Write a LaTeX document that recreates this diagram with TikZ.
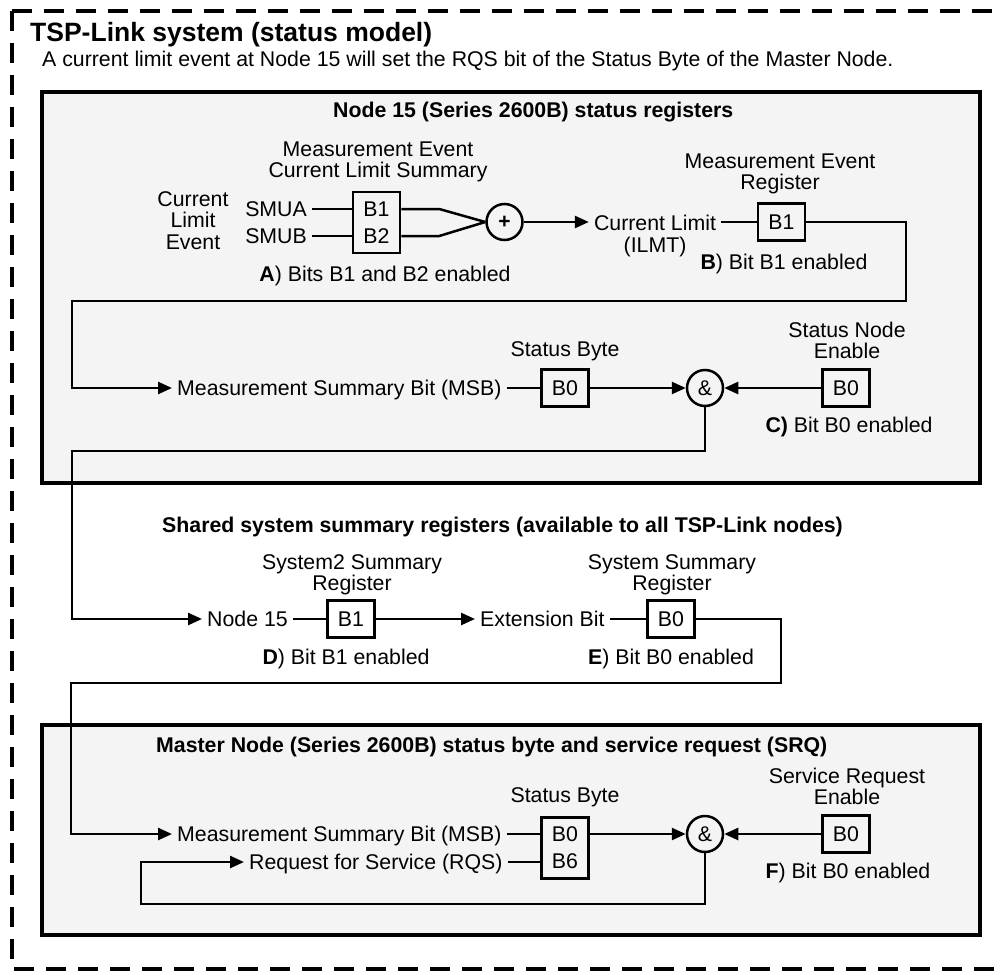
\documentclass[tikz,border=0pt]{standalone}
\usepackage{fontspec}
\setmainfont{Liberation Sans}
\usetikzlibrary{arrows.meta}
\definecolor{panelgray}{HTML}{F4F4F4}
\newcommand{\bodyfont}{\fontsize{21.3}{21.5}\selectfont}

\begin{document}
\begin{tikzpicture}[x=1pt, y=-1pt, font=\bodyfont,
    txt/.style={inner xsep=5pt, inner ysep=0pt, text height=15pt, text depth=0pt},
    ml/.style={align=center, inner xsep=5pt, inner ysep=0pt},
    head/.style={txt, anchor=west, inner xsep=0pt, font=\bodyfont\bfseries},
    reg/.style={draw, line width=2.5pt, minimum width=47pt, minimum height=37pt,
        inner sep=0pt, text height=15pt, text depth=0pt},
    regtwo/.style={draw, line width=2.5pt, minimum width=47pt, minimum height=61pt,
        inner sep=0pt, align=center, font=\fontsize{21.3}{27}\selectfont},
    gate/.style={circle, draw, line width=2.5pt, minimum size=36pt, inner sep=0pt},
    wire/.style={line width=2.5pt},
    sig/.style={wire, -{Triangle[length=14pt, width=12pt]}},
    panel/.style={draw, line width=3.5pt, fill=panelgray},
    frame/.style={line width=4pt, dash pattern=on 20pt off 12pt}]
                    \useasboundingbox (0,0) rectangle (1003,971);
                    % Frame and panels
                    \draw[frame] (12,11) -- (1012,11);
                    \draw[frame] (12,11) -- (12,969) -- (1012,969);
                    \draw[panel] (42,92) rectangle (980,483);
                    \draw[panel] (42,725) rectangle (980,935);
                    % Titles
                    \node[txt, anchor=west, inner xsep=0pt, text height=19pt, font=\fontsize{26.5}{30}\selectfont\bfseries] (title) at (30,32) {TSP-Link system (status model)};
                    \node[txt, anchor=west, inner xsep=0pt] (intro) at (42,59) {A current limit event at Node 15 will set the RQS bit of the Status Byte of the Master Node.};
                    % Node 15
                    \node[head] (nodehead) at (333,110) {Node 15 (Series 2600B) status registers};
                    \node[ml] (cle) at (193,220.5) {Current\\Limit\\Event};
                    \node[txt, anchor=east] (smua) at (312,209) {SMUA};
                    \node[txt, anchor=east] (smub) at (312,236) {SMUB};
                    \node[regtwo] (mecl) at (376.5,222.5) {B1\\B2};
                    \node[ml] (mecltitle) at (378,162) {Measurement Event\\Current Limit Summary};
                    \node[txt] (bita) at (385,274) {\textbf{A}) Bits B1 and B2 enabled};
                    \node[gate, font=\fontsize{21}{21}\selectfont\bfseries] (sum) at (504.5,222) {+};
                    \node[ml] (ilmt) at (655,236) {Current Limit\\(ILMT)};
                    \node[reg] (mer) at (781.5,222) {B1};
                    \node[ml] (mertitle) at (780,174) {Measurement Event\\Register};
                    \node[txt] (bitb) at (784,262) {\textbf{B}) Bit B1 enabled};
                    \node[txt, anchor=west] (msb) at (172,388) {Measurement Summary Bit (MSB)};
                    \node[reg] (sb) at (565,388) {B0};
                    \node[txt] (sbtitle) at (565,349) {Status Byte};
                    \node[gate] (and1) at (705,388) {\&};
                    \node[reg] (sne) at (846,388) {B0};
                    \node[ml] (snetitle) at (847,340.5) {Status Node\\Enable};
                    \node[txt] (bitc) at (849,425) {\textbf{C)} Bit B0 enabled};
                    % Shared registers
                    \node[head] (sharedhead) at (162,525) {Shared system summary registers (available to all TSP-Link nodes)};
                    \node[txt, anchor=west] (n15) at (202,619) {Node 15};
                    \node[reg] (s2sr) at (351,619) {B1};
                    \node[ml] (s2srtitle) at (352,575) {System2 Summary\\Register};
                    \node[txt] (bitd) at (346,657) {\textbf{D}) Bit B1 enabled};
                    \node[txt, anchor=west] (ext) at (475,619) {Extension Bit};
                    \node[reg] (ssr) at (671,619) {B0};
                    \node[ml] (ssrtitle) at (672,575) {System Summary\\Register};
                    \node[txt] (bite) at (671,657) {\textbf{E}) Bit B0 enabled};
                    % Master node
                    \node[head] (masterhead) at (156,745) {Master Node (Series 2600B) status byte and service request (SRQ)};
                    \node[txt, anchor=west] (mmsb) at (172,834) {Measurement Summary Bit (MSB)};
                    \node[txt, anchor=west] (rqs) at (244,862) {Request for Service (RQS)};
                    \node[regtwo] (stb) at (565,848) {B0\\B6};
                    \node[txt] (stbtitle) at (565,795) {Status Byte};
                    \node[gate] (and2) at (705,834) {\&};
                    \node[reg] (sre) at (846,834) {B0};
                    \node[ml] (sretitle) at (847,786.5) {Service Request\\Enable};
                    \node[txt] (bitf) at (848,871) {\textbf{F}) Bit B0 enabled};
                    % Turning points
                    \coordinate (c1) at (906,301);
                    \coordinate (c2) at (72,301);
                    \coordinate (c3) at (72,451);
                    \coordinate (c4) at (781,683);
                    \coordinate (c5) at (71,683);
                    \coordinate (c6) at (141,904);
                    % Edges
                    \draw[wire] (smua) -- (mecl.west |- smua);
                    \draw[wire] (smub) -- (mecl.west |- smub);
                    \draw[wire] (mecl.east |- smua) -- ++(38,0) -- (sum.west);
                    \draw[wire] (mecl.east |- smub) -- ++(38,0) -- (sum.west);
                    \draw[sig] (sum) -- (ilmt.west |- sum);
                    \draw[wire] (ilmt.east |- mer) -- (mer);
                    \draw[sig] (mer) -| (c1) -- (c2) |- (msb);
                    \draw[wire] (msb) -- (sb);
                    \draw[sig] (sb) -- (and1);
                    \draw[sig] (sne) -- (and1);
                    \draw[sig] (and1) |- (c3) |- (n15);
                    \draw[wire] (n15) -- (s2sr);
                    \draw[sig] (s2sr) -- (ext);
                    \draw[wire] (ext) -- (ssr);
                    \draw[sig] (ssr) -| (c4) -- (c5) |- (mmsb);
                    \draw[wire] (mmsb) -- (stb.west |- mmsb);
                    \draw[wire] (rqs) -- (stb.west |- rqs);
                    \draw[sig] (stb.east |- and2) -- (and2);
                    \draw[sig] (sre) -- (and2);
                    \draw[sig] (and2) |- (c6) |- (rqs);
\end{tikzpicture}
\end{document}
